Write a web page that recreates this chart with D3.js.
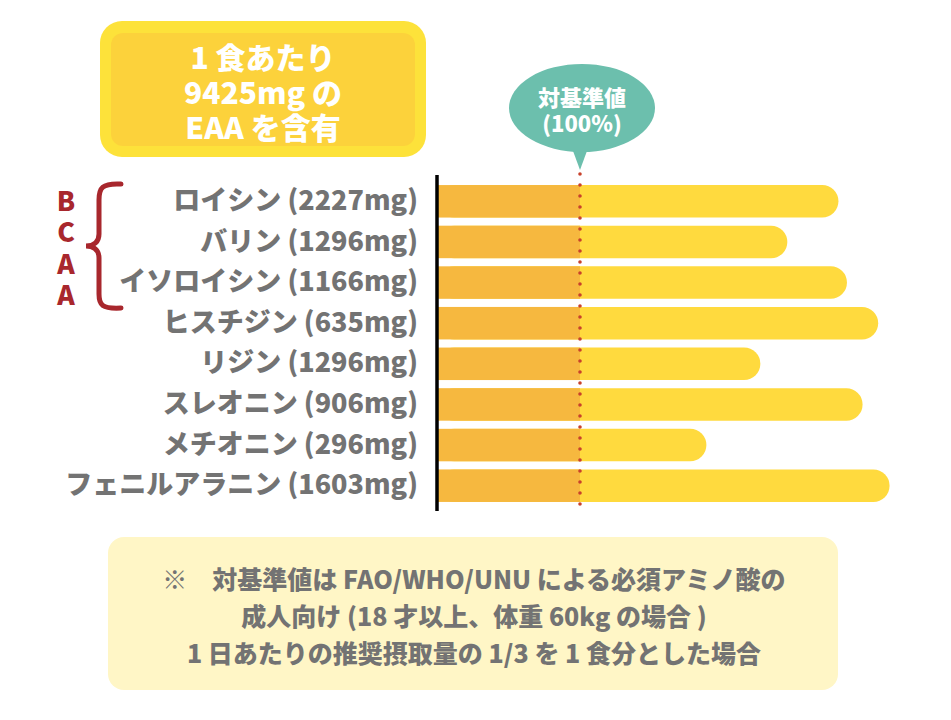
<!DOCTYPE html>
<html>
<head>
<meta charset="utf-8">
<script src="https://cdn.jsdelivr.net/npm/d3@7"></script>
<style>
  body { margin: 0; background: #fff; }
  svg { display: block; font-family: "Noto Sans CJK JP", "Noto Sans", sans-serif; font-weight: 900; }
</style>
</head>
<body>
<div id="chart"></div>
<script>
// amino acids, mg per serving, and % of reference value
var names = ["ロイシン", "バリン", "イソロイシン", "ヒスチジン", "リジン", "スレオニン", "メチオニン", "フェニルアラニン"];
var amounts = [2227, 1296, 1166, 635, 1296, 906, 296, 1603];
var percents = [282, 246, 288, 310, 227, 299, 189, 318];
var refPercent = 100;
var bcaaLetters = ["B", "C", "A", "A"];
var titleLines = ["1 食あたり", "9425mg の", "EAA を含有"];
var bubbleLines = ["対基準値", "(100%)"];
var noteLines = ["※　対基準値は FAO/WHO/UNU による必須アミノ酸の",
                 "成人向け (18 才以上、体重 60kg の場合 )",
                 "1 日あたりの推奨摂取量の 1/3 を 1 食分とした場合"];

var width = 951, height = 720;
var orange = "#F6B83F", yellow = "#FFDA3E", gray = "#737373", red = "#A8272D", teal = "#6CBFAD";

var svg = d3.select("#chart").append("svg")
    .attr("width", width)
    .attr("height", height);

var data = names.map(function (n, i) {
    return {name: n, label: n + " (" + amounts[i] + "mg)", pct: percents[i]};
});

var x = d3.scaleLinear()
    .domain([0, refPercent])
    .range([438, 580]);

var y = d3.scaleBand()
    .domain(data.map(function (d) { return d.label; }))
    .range([181, 506])
    .paddingInner(0.2)
    .paddingOuter(0.1);

var bh = y.bandwidth();

// multi-line text as one element
function block(cx, y0, lines, step) {
    var t = svg.append("text")
        .attr("text-anchor", "middle");
    t.selectAll("tspan")
        .data(lines)
        .enter().append("tspan")
        .attr("x", cx)
        .attr("y", function (d, i) { return y0 + i * step; })
        .text(function (d) { return d; });
    return t;
}

// title box
svg.append("rect")
    .attr("x", 100).attr("y", 21).attr("width", 326).attr("height", 136)
    .attr("rx", 22).style("fill", "#FDE23A");
svg.append("rect")
    .attr("x", 111).attr("y", 33).attr("width", 304).attr("height", 113)
    .attr("rx", 12).style("fill", "#FCD23B");
block(263, 69, titleLines, 35)
    .style("font-size", "30px")
    .style("fill", "#fff");

// speech bubble for the 100% line
var bx = x(refPercent);
svg.append("path")
    .attr("d", "M" + (bx - 11) + ",140 L" + bx + ",170 L" + (bx + 11) + ",140 Z")
    .style("fill", teal);
svg.append("ellipse")
    .attr("cx", bx + 2).attr("cy", 108).attr("rx", 73).attr("ry", 44)
    .style("fill", teal);
block(bx + 2, 106, bubbleLines, 26)
    .style("font-size", "22px")
    .style("fill", "#fff");

// bars: yellow full length with rounded end, orange up to 100%
svg.selectAll(".bar")
    .data(data)
    .enter().append("rect")
    .attr("class", "bar")
    .attr("x", x(0))
    .attr("y", function (d) { return y(d.label); })
    .attr("width", function (d) { return x(d.pct) - x(0); })
    .attr("height", bh)
    .attr("rx", bh / 2)
    .style("fill", yellow);

svg.selectAll(".base")
    .data(data)
    .enter().append("rect")
    .attr("class", "base")
    .attr("x", x(0))
    .attr("y", function (d) { return y(d.label); })
    .attr("width", x(refPercent) - x(0))
    .attr("height", bh)
    .style("fill", orange);

// dotted reference line
svg.append("line")
    .attr("x1", bx).attr("x2", bx)
    .attr("y1", 174).attr("y2", 506)
    .style("stroke", "#C8412B")
    .style("stroke-width", 3.6)
    .style("stroke-linecap", "round")
    .style("stroke-dasharray", "0 11");

// y axis labels
var yAxis = svg.append("g")
    .attr("transform", "translate(" + x(0) + ",0)")
    .call(d3.axisLeft(y).tickSize(0).tickPadding(20));
yAxis.select(".domain").remove();
yAxis.selectAll("text")
    .style("font-family", "\"Noto Sans CJK JP\", sans-serif")
    .style("font-weight", 900)
    .style("font-size", "27px")
    .style("fill", gray);

// axis line
svg.append("line")
    .attr("x1", x(0) - 1).attr("x2", x(0) - 1)
    .attr("y1", 175).attr("y2", 511)
    .style("stroke", "#000")
    .style("stroke-width", 3.5);

// BCAA bracket
block(66, 211, bcaaLetters, 31.3)
    .style("font-size", "26.5px")
    .style("fill", red);
svg.append("path")
    .attr("d", "M121,184 C102,183 99,188 99,200 L99,234 C99,242 94,246 86,246 C94,246 99,250 99,258 L99,294 C99,305 102,309 121,308")
    .style("fill", "none")
    .style("stroke", red)
    .style("stroke-width", 5)
    .style("stroke-linecap", "round");

// footnote
svg.append("rect")
    .attr("x", 108).attr("y", 537).attr("width", 730).attr("height", 153)
    .attr("rx", 16).style("fill", "#FFF6C6");
svg.selectAll(".note")
    .data(noteLines)
    .enter().append("text")
    .attr("class", "note")
    .attr("x", 474)
    .attr("y", function (d, i) { return 589 + i * 37; })
    .attr("text-anchor", "middle")
    .style("font-size", "25px")
    .style("fill", gray)
    .text(function (d) { return d; });
</script>
</body>
</html>
